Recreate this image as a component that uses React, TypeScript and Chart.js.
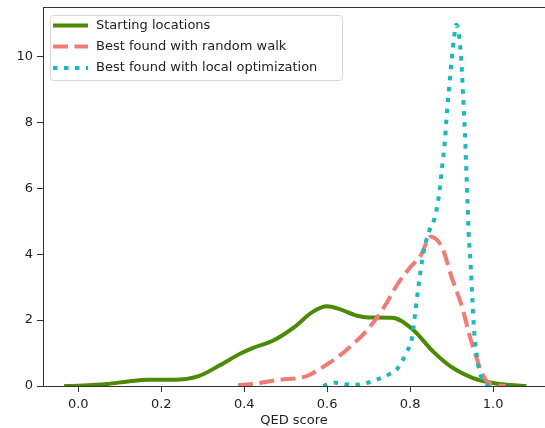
import React, { useEffect, useRef } from "react";
import { Chart, registerables } from "chart.js";

Chart.register(...registerables);

const startX = [-0.034, 0.0, 0.07, 0.12, 0.17, 0.23, 0.29, 0.34, 0.39, 0.42, 0.47, 0.52, 0.565, 0.6, 0.63, 0.67, 0.7, 0.757, 0.805, 0.855, 0.9, 0.95, 1.0, 1.04, 1.08];
const startY = [0, 0.01, 0.06, 0.14, 0.19, 0.19, 0.3, 0.62, 0.98, 1.15, 1.38, 1.78, 2.25, 2.42, 2.33, 2.14, 2.08, 2.07, 1.73, 1.05, 0.57, 0.25, 0.09, 0.03, 0];

const walkX = [0.385, 0.43, 0.48, 0.55, 0.58, 0.63, 0.665, 0.7, 0.74, 0.77, 0.8, 0.825, 0.849, 0.877, 0.9, 0.925, 0.945, 0.96, 0.972, 0.986, 1.0, 1.03];
const walkY = [0.02, 0.08, 0.18, 0.3, 0.5, 0.92, 1.3, 1.75, 2.45, 3.1, 3.6, 3.95, 4.53, 4.2, 3.3, 2.4, 1.45, 0.85, 0.42, 0.13, 0.04, 0];

const localX = [0.59, 0.62, 0.645, 0.67, 0.695, 0.725, 0.75, 0.77, 0.79, 0.805, 0.813, 0.821, 0.829, 0.837, 0.847, 0.86, 0.87, 0.877, 0.884, 0.889, 0.895, 0.9, 0.906, 0.911, 0.919, 0.924, 0.928, 0.932, 0.935, 0.938, 0.941, 0.946, 0.95, 0.954, 0.96, 0.966, 0.978, 0.99];
const localY = [0, 0.1, 0.05, 0.04, 0.09, 0.22, 0.36, 0.54, 0.99, 1.5, 2.31, 3.12, 3.83, 4.33, 4.74, 5.14, 5.85, 6.66, 7.47, 8.38, 9.19, 9.9, 10.6, 10.96, 10.5, 9.7, 8.69, 7.67, 6.66, 5.65, 4.64, 3.62, 2.61, 1.7, 0.99, 0.49, 0.13, 0];

const seriesLabels = ["Starting locations", "Best found with random walk", "Best found with local optimization"];
const seriesColors = ["#4c8a06", "#f07c76", "#1bb8bd"];
const seriesDash: number[][] = [[], [15, 6.5], [4.5, 6.5]];

const xTicks = [0, 0.2, 0.4, 0.6, 0.8, 1.0];
const yTicks = [0, 2, 4, 6, 8, 10];
const xTitle = "QED score";

const FONT = "'DejaVu Sans', sans-serif";

const toPts = (xs: number[], ys: number[]) => xs.map((x, i) => ({ x, y: ys[i] }));

const frameAndLegend = {
  id: "frameAndLegend",
  afterDatasetsDraw(chart: any) {
    const ctx = chart.ctx;
    const a = chart.chartArea;
    ctx.save();
    ctx.strokeStyle = "#333";
    ctx.lineWidth = 1;
    ctx.beginPath();
    ctx.moveTo(a.left, a.top + 0.5);
    ctx.lineTo(a.right, a.top + 0.5);
    ctx.stroke();

    const bx = 50.5, by = 15.5, bw = 292, bh = 65, r = 3;
    ctx.beginPath();
    ctx.moveTo(bx + r, by);
    ctx.lineTo(bx + bw - r, by);
    ctx.quadraticCurveTo(bx + bw, by, bx + bw, by + r);
    ctx.lineTo(bx + bw, by + bh - r);
    ctx.quadraticCurveTo(bx + bw, by + bh, bx + bw - r, by + bh);
    ctx.lineTo(bx + r, by + bh);
    ctx.quadraticCurveTo(bx, by + bh, bx, by + bh - r);
    ctx.lineTo(bx, by + r);
    ctx.quadraticCurveTo(bx, by, bx + r, by);
    ctx.closePath();
    ctx.fillStyle = "rgba(255,255,255,0.85)";
    ctx.fill();
    ctx.strokeStyle = "#d8d8d8";
    ctx.stroke();

    const rows = [25.5, 46.5, 68];
    seriesLabels.forEach((lab, i) => {
      const y = rows[i];
      ctx.strokeStyle = seriesColors[i];
      ctx.lineWidth = 4;
      ctx.lineCap = "butt";
      ctx.setLineDash(seriesDash[i]);
      ctx.beginPath();
      ctx.moveTo(53, y);
      ctx.lineTo(88, y);
      ctx.stroke();
      ctx.setLineDash([]);
      ctx.fillStyle = "#222";
      ctx.font = "13px " + FONT;
      ctx.textBaseline = "middle";
      ctx.textAlign = "left";
      ctx.fillText(lab, 96, y);
    });
    ctx.restore();
  },
};

export default function App() {
  const ref = useRef<HTMLCanvasElement | null>(null);
  useEffect(() => {
    if (!ref.current) return;
    const data = [toPts(startX, startY), toPts(walkX, walkY), toPts(localX, localY)];
    const chart = new Chart(ref.current, {
      type: "line",
      data: {
        datasets: data.map((d, i) => ({
          label: seriesLabels[i],
          data: d,
          borderColor: seriesColors[i],
          backgroundColor: seriesColors[i],
          borderWidth: 4,
          borderDash: seriesDash[i],
          borderCapStyle: "butt" as const,
          pointRadius: 0,
          fill: false,
          cubicInterpolationMode: "monotone" as const,
          order: 3 - i,
        })),
      },
      plugins: [frameAndLegend],
      options: {
        responsive: false,
        animation: false,
        layout: { padding: { top: 7, left: 0, right: 0, bottom: 0 } },
        plugins: { legend: { display: false }, tooltip: { enabled: false } },
        scales: {
          x: {
            type: "linear",
            min: -0.085,
            max: 1.125,
            afterBuildTicks: (s: any) => {
              s.ticks = xTicks.map((v) => ({ value: v }));
            },
            afterFit: (s: any) => {
              s.height = 42;
              s.paddingLeft = 0;
              s.paddingRight = 0;
            },
            ticks: {
              callback: (v: any) => Number(v).toFixed(1),
              color: "#222",
              font: { family: FONT, size: 13 },
              padding: 5,
              maxRotation: 0,
              autoSkip: false,
            },
            grid: { drawOnChartArea: false, drawTicks: true, tickLength: 6, color: "#333" },
            border: { display: true, color: "#333", width: 1 },
            title: {
              display: true,
              text: xTitle,
              color: "#222",
              font: { family: FONT, size: 13 },
              padding: { top: 0, bottom: 0 },
            },
          },
          y: {
            type: "linear",
            min: 0,
            max: 11.5,
            afterBuildTicks: (s: any) => {
              s.ticks = yTicks.map((v) => ({ value: v }));
            },
            afterFit: (s: any) => {
              s.width = 43;
              s.paddingTop = 0;
              s.paddingBottom = 0;
            },
            ticks: {
              callback: (v: any) => String(v),
              color: "#222",
              font: { family: FONT, size: 13 },
              padding: 4,
              autoSkip: false,
            },
            grid: { drawOnChartArea: false, drawTicks: true, tickLength: 6, color: "#333" },
            border: { display: true, color: "#333", width: 1 },
          },
        },
      },
    });
    return () => chart.destroy();
  }, []);
  return (
    <div style={{ position: "fixed", left: 0, top: 0, width: 545, height: 428, background: "#fff" }}>
      <canvas ref={ref} width={545} height={428} style={{ display: "block", width: 545, height: 428 }} />
    </div>
  );
}
